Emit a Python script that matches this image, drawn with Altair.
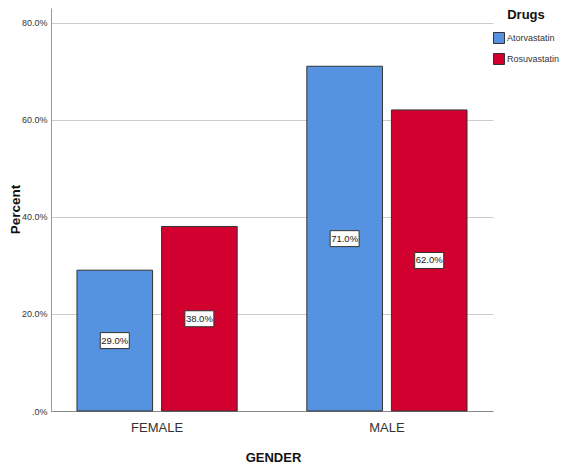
import altair as alt
import pandas as pd

genders = ["FEMALE", "FEMALE", "MALE", "MALE"]
drugs = ["Atorvastatin", "Rosuvastatin", "Atorvastatin", "Rosuvastatin"]
percents = [29.0, 38.0, 71.0, 62.0]
drug_order = ["Atorvastatin", "Rosuvastatin"]
drug_colors = ["#5592e0", "#d1002f"]
y_ticks = [0, 20, 40, 60, 80]

df = pd.DataFrame({"GENDER": genders, "Drugs": drugs, "Percent": percents})
df["label"] = [f"{v:.1f}%" for v in percents]

FONT = "Liberation Sans"

x_enc = alt.X("GENDER:N", sort=["FEMALE", "MALE"],
              scale=alt.Scale(paddingInner=0.303, paddingOuter=0.113),
              axis=alt.Axis(title="GENDER", labelAngle=0, ticks=False,
                            labelFontSize=13, labelFont=FONT, labelColor="#333",
                            labelPadding=10, domainColor="#888",
                            titleFont=FONT, titleFontSize=13, titleFontWeight="bold",
                            titleColor="#111", titleX=222, titleY=50,
                            titleBaseline="alphabetic", grid=False))
xo_enc = alt.XOffset("Drugs:N", sort=drug_order,
                     scale=alt.Scale(paddingInner=0.106, paddingOuter=0))

bars = alt.Chart(df).mark_bar(stroke="#333", strokeWidth=1).encode(
    x=x_enc,
    xOffset=xo_enc,
    y=alt.Y("Percent:Q",
            scale=alt.Scale(domain=[0, 83], nice=False),
            axis=alt.Axis(title="Percent", values=y_ticks, ticks=False,
                          labelExpr="datum.value == 0 ? '.0%' : format(datum.value, '.1f') + '%'",
                          labelFontSize=9, labelFont=FONT, labelColor="#333",
                          labelPadding=4, domainColor="#999",
                          gridColor="#cccccc", gridWidth=1,
                          titleFont=FONT, titleFontSize=13.5, titleFontWeight="bold",
                          titleColor="#111", titleX=-29, titleY=201)),
    color=alt.Color("Drugs:N", sort=drug_order,
                    scale=alt.Scale(domain=drug_order, range=drug_colors),
                    legend=alt.Legend(orient="none", legendX=442, legendY=1,
                                      title="Drugs", titleFont=FONT, titleFontSize=13,
                                      titleFontWeight="bold", titleColor="#111",
                                      titleAnchor="middle", titlePadding=10,
                                      labelFont=FONT, labelFontSize=9, labelColor="#333",
                                      labelOffset=2, labelLimit=200,
                                      symbolType="square", symbolSize=121,
                                      symbolStrokeColor="#333", symbolStrokeWidth=1,
                                      symbolOpacity=1, rowPadding=5, padding=0)),
)

base = alt.Chart(df).transform_calculate(mid="datum.Percent / 2")

boxes = base.mark_point(
    shape="M-1,-0.55L1,-0.55L1,0.55L-1,0.55Z", size=841,
    filled=True, fill="white", stroke="#333", strokeWidth=1, opacity=1
).encode(
    x=alt.X("GENDER:N", sort=["FEMALE", "MALE"]),
    xOffset=alt.XOffset("Drugs:N", sort=drug_order),
    y=alt.Y("mid:Q"),
)

texts = base.mark_text(font=FONT, fontSize=9.5, color="#222", baseline="middle").encode(
    x=alt.X("GENDER:N", sort=["FEMALE", "MALE"]),
    xOffset=alt.XOffset("Drugs:N", sort=drug_order),
    y=alt.Y("mid:Q"),
    text="label:N",
)

chart = alt.layer(bars, boxes, texts).properties(
    width=442, height=403,
    autosize=alt.AutoSizeParams(type="none"),
    padding={"left": 43, "top": 0, "right": 69, "bottom": 53},
    background="white",
).configure_view(stroke=None)

chart.save("out.html", embed_options={"renderer": "svg", "actions": False})
